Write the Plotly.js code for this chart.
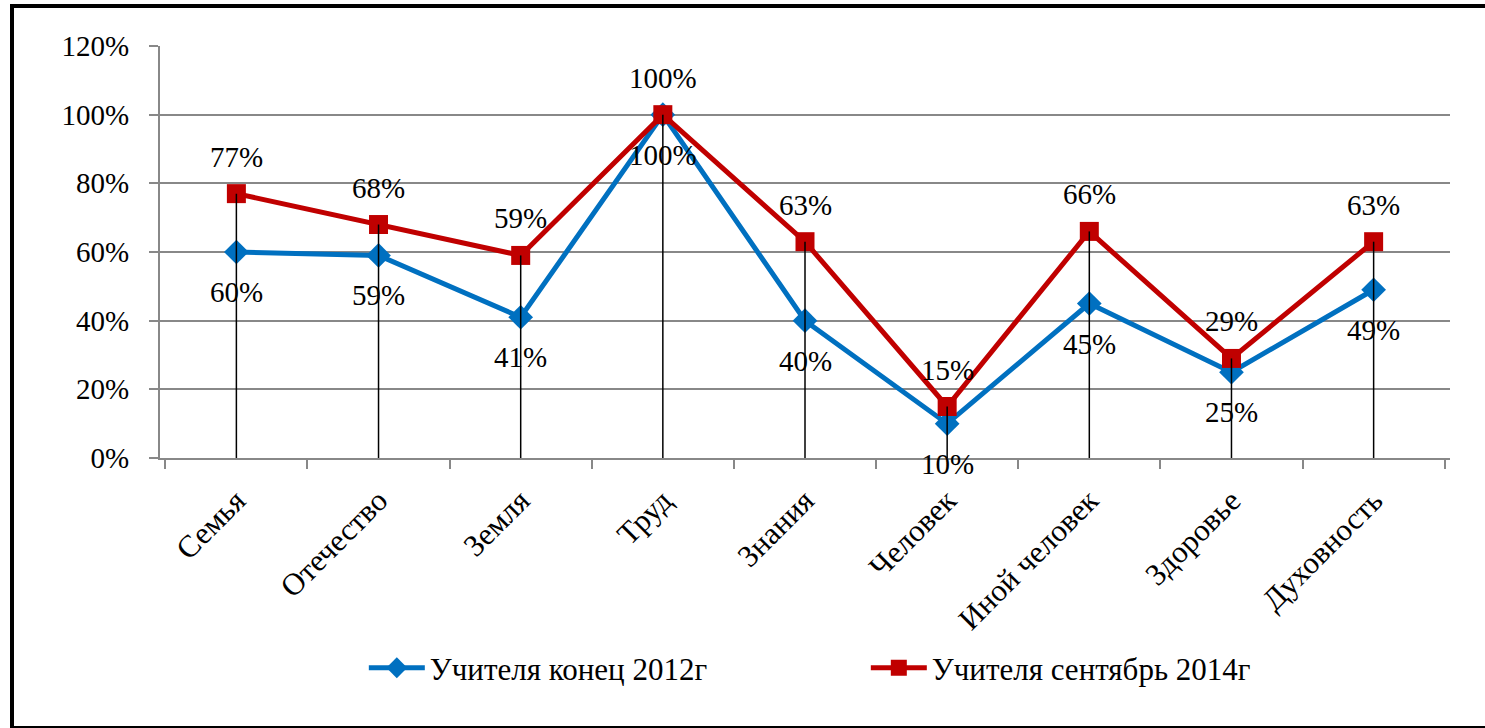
<!DOCTYPE html>
<html>
<head>
<meta charset="utf-8">
<script src="https://cdn.plot.ly/plotly-3.0.1.min.js"></script>
<style>
  html, body { margin: 0; padding: 0; overflow: hidden; background: #fff; }
  #plot { position: absolute; left: 0; top: 0; width: 1485px; height: 728px; }
  #frame { position: absolute; left: 10px; top: 4px; width: 1490px; height: 718px;
           border: 4px solid #000; pointer-events: none; }
</style>
</head>
<body>
<div id="plot"></div>
<div id="frame"></div>
<script>
  var categories = ['Семья', 'Отечество', 'Земля', 'Труд', 'Знания', 'Человек', 'Иной человек', 'Здоровье', 'Духовность'];
  var teachers2012 = [0.60, 0.59, 0.41, 1.00, 0.40, 0.10, 0.45, 0.25, 0.49];
  var teachers2014 = [0.77, 0.68, 0.59, 1.00, 0.63, 0.15, 0.66, 0.29, 0.63];

  var serif = 'Liberation Serif';

  // drop lines from the higher point down to the axis
  var dropX = [], dropY = [];
  categories.forEach(function (c, i) {
    dropX.push(c, c, null);
    dropY.push(0, Math.max(teachers2012[i], teachers2014[i]), null);
  });

  var pct = function (v) { return Math.round(v * 100) + '%'; };

  // data labels: red above, blue below
  var labels = [];
  categories.forEach(function (c, i) {
    labels.push({ x: c, y: teachers2014[i], text: pct(teachers2014[i]), showarrow: false,
                  yshift: 37, xref: 'x', yref: 'y', font: { family: serif, size: 29, color: '#000' } });
    labels.push({ x: c, y: teachers2012[i], text: pct(teachers2012[i]), showarrow: false,
                  yshift: -40, xref: 'x', yref: 'y', font: { family: serif, size: 29, color: '#000' } });
  });

  var trace1 = {
    x: categories,
    y: teachers2012,
    mode: 'lines+markers',
    type: 'scatter',
    name: 'Учителя конец 2012г',
    line: { color: '#0070C0', width: 5 },
    marker: { symbol: 'diamond', size: 19, color: '#0070C0' },
    cliponaxis: false
  };

  var trace2 = {
    x: categories,
    y: teachers2014,
    mode: 'lines+markers',
    type: 'scatter',
    name: 'Учителя сентябрь 2014г',
    line: { color: '#C00000', width: 5 },
    marker: { symbol: 'square', size: 19, color: '#C00000' },
    cliponaxis: false
  };

  var drops = {
    x: dropX,
    y: dropY,
    mode: 'lines',
    type: 'scatter',
    line: { color: '#000', width: 1.5 },
    showlegend: false,
    hoverinfo: 'skip',
    cliponaxis: false
  };

  var layout = {
    width: 1485,
    height: 728,
    margin: { l: 160, r: 35, t: 46, b: 270, autoexpand: false },
    paper_bgcolor: '#fff',
    plot_bgcolor: '#fff',
    font: { family: serif, size: 29, color: '#000' },
    xaxis: {
      type: 'category',
      tickangle: -45,
      tickson: 'boundaries',
      ticks: 'outside',
      ticklen: 9,
      tickcolor: '#888',
      tickwidth: 2,
      showline: true,
      linecolor: '#888',
      linewidth: 2,
      showgrid: false,
      ticklabelstandoff: 10,
      tickfont: { family: serif, size: 31, color: '#000' }
    },
    yaxis: {
      range: [0, 1.2],
      dtick: 0.2,
      tickformat: '.0%',
      ticks: 'outside',
      ticklen: 9,
      tickcolor: '#888',
      tickwidth: 2,
      showline: true,
      linecolor: '#888',
      linewidth: 2,
      gridcolor: '#888',
      gridwidth: 2,
      zeroline: false,
      ticklabelstandoff: 14,
      tickfont: { family: serif, size: 29, color: '#000' }
    },
    legend: {
      orientation: 'h',
      x: 0.158,
      xanchor: 'left',
      y: -0.51,
      yanchor: 'middle',
      font: { family: serif, size: 31, color: '#000' },
      itemwidth: 56,
      entrywidth: 431,
      entrywidthmode: 'pixels'
    },
    annotations: labels,
    showlegend: true
  };

  Plotly.newPlot('plot', [trace1, trace2, drops], layout, { displayModeBar: false, staticPlot: true });
</script>
</body>
</html>
